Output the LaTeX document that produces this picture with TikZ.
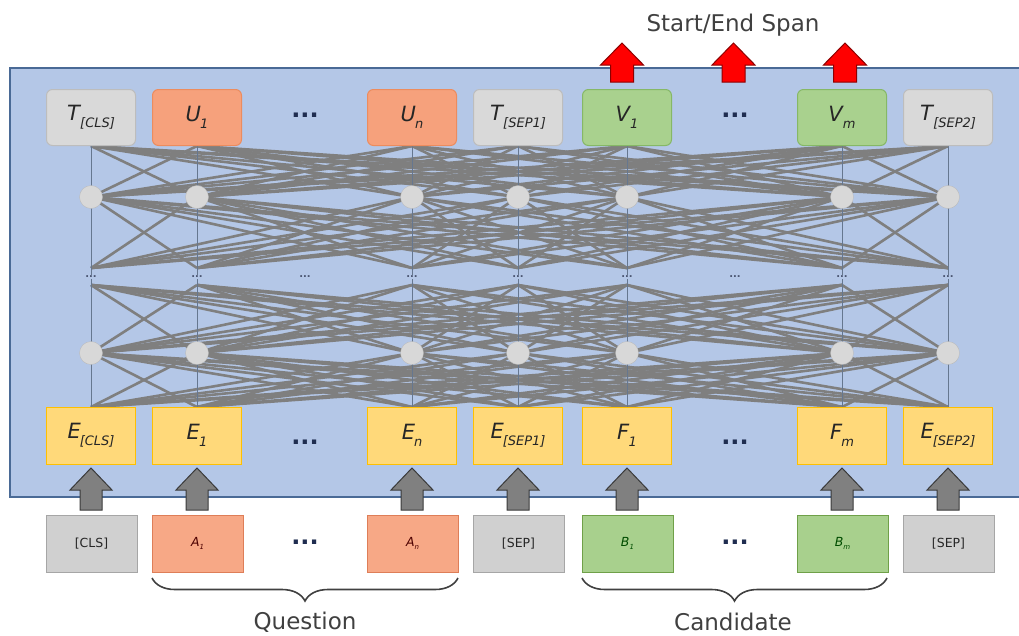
\documentclass[tikz,border=0pt]{standalone}
\usepackage{fontspec}
\setmainfont{DejaVu Sans}
\usetikzlibrary{decorations.pathreplacing}

\definecolor{panelblue}{HTML}{B4C7E7}
\definecolor{paneledge}{HTML}{4A6A96}
\definecolor{netgray}{HTML}{7F7F7F}
\definecolor{vgray}{HTML}{66778F}
\definecolor{neurongray}{HTML}{D8D8D8}
\definecolor{tgray}{HTML}{D9D9D9}
\definecolor{tgrayedge}{HTML}{BDBDBD}
\definecolor{torange}{HTML}{F6A17C}
\definecolor{torangeedge}{HTML}{EC8C5E}
\definecolor{tgreen}{HTML}{A9D18E}
\definecolor{tgreenedge}{HTML}{86B866}
\definecolor{eyellow}{HTML}{FFD97A}
\definecolor{eyellowedge}{HTML}{FFC000}
\definecolor{bgray}{HTML}{D0D0D0}
\definecolor{bgrayedge}{HTML}{A6A6A6}
\definecolor{borange}{HTML}{F7A886}
\definecolor{borangeedge}{HTML}{DE7E58}
\definecolor{bgreen}{HTML}{A8D08D}
\definecolor{bgreenedge}{HTML}{6FA048}
\definecolor{arrowgray}{HTML}{808080}
\definecolor{arrowedge}{HTML}{3A3A3A}
\definecolor{dotnavy}{HTML}{1F2D50}
\definecolor{textdark}{HTML}{262626}

% token label: main letter with a lowered, smaller tag
\newcommand\toklbl[2]{\textit{#1}\kern-1pt\raisebox{-0.34em}{\fontsize{13}{13}\selectfont\textit{#2}}}
\newcommand\smalltok[2]{\textit{#1}\raisebox{-0.2em}{\fontsize{7}{7}\selectfont\textit{#2}}}

\tikzset{
  net/.style={draw=netgray, line width=2.6pt},
  vline/.style={draw=vgray, line width=0.8pt},
  neuron/.style={circle, fill=neurongray, draw=neurongray!85!black, line width=0.3pt, minimum size=23pt, inner sep=0pt},
  netdots/.style={font=\fontsize{10}{10}\selectfont\bfseries, text=dotnavy!80, inner sep=0pt},
  topbox/.style={rounded corners=6pt, minimum width=89pt, minimum height=56pt, line width=1pt, inner sep=0pt,
                 font=\fontsize{21}{21}\selectfont, text=textdark},
  tgraybox/.style={topbox, fill=tgray, draw=tgrayedge},
  torangebox/.style={topbox, fill=torange, draw=torangeedge},
  tgreenbox/.style={topbox, fill=tgreen, draw=tgreenedge},
  embbox/.style={minimum width=89pt, minimum height=57pt, line width=1pt, inner sep=0pt,
                 fill=eyellow, draw=eyellowedge, font=\fontsize{21}{21}\selectfont, text=textdark},
  inbox/.style={minimum width=91pt, minimum height=57pt, line width=1pt, inner sep=0pt,
                font=\fontsize{12.5}{12.5}\selectfont, text=textdark},
  bgraybox/.style={inbox, fill=bgray, draw=bgrayedge},
  borangebox/.style={inbox, fill=borange, draw=borangeedge, text=black!70!red},
  bgreenbox/.style={inbox, fill=bgreen, draw=bgreenedge, text=black!70!green},
  bigdots/.style={font=\fontsize{24}{24}\selectfont\bfseries, text=dotnavy, inner sep=0pt},
  uparrow/.style={fill=arrowgray, draw=arrowedge, line width=1pt, line join=miter},
  redarrow/.style={fill=red, draw=red!55!black, line width=1pt, line join=miter},
  curly/.style={decorate, decoration={brace, amplitude=23pt}, draw=black!75, line width=1.6pt},
  caption/.style={font=\fontsize{23}{23}\selectfont, text=black!75}
}

\begin{document}
\begin{tikzpicture}[x=1pt, y=-1pt]
\useasboundingbox (0,0) rectangle (1019,635);
\fill[white] (0,0) rectangle (1019,635);

% encoder panel
\draw[fill=panelblue, draw=paneledge, line width=1.2pt] (10,68) rectangle (1030,497);

% layer attachment points of the seven token columns
\foreach \x [count=\i] in {91,197,412,518,627,842,948} {
  \coordinate (la\i) at (\x,146);
  \coordinate (lb\i) at (\x,197);
  \coordinate (lc\i) at (\x,268);
  \coordinate (ld\i) at (\x,285);
  \coordinate (le\i) at (\x,353);
  \coordinate (lf\i) at (\x,407);
}

% fully connected layers
\foreach \i in {1,...,7} {
  \foreach \j in {1,...,7} {
    \ifnum\i=\j\else
      \draw[net] (la\i) -- (lb\j);
      \draw[net] (lb\i) -- (lc\j);
      \draw[net] (ld\i) -- (le\j);
      \draw[net] (le\i) -- (lf\j);
    \fi
  }
}
\foreach \i in {1,...,7} { \draw[vline] (la\i) -- (lf\i); }

% hidden units
\foreach \x [count=\i] in {91,197,412,518,627,842,948} {
  \node[neuron] (ha\i) at (\x,197) {};
  \node[neuron] (hb\i) at (\x,353) {};
}
\foreach \x [count=\i] in {91,197,305,412,518,627,735,842,948} {
  \node[netdots, fill=panelblue, inner sep=1pt] (md\i) at (\x,277) {...};
}

% output tokens
\node[tgraybox]   (tcls)  at (91,117.5)  {\toklbl{T}{[CLS]}};
\node[torangebox] (u1)    at (197,117.5) {\toklbl{U}{1}};
\node[bigdots]    (tdq)   at (305,115)   {...};
\node[torangebox] (un)    at (412,117.5) {\toklbl{U}{n}};
\node[tgraybox]   (tsep1) at (518,117.5) {\toklbl{T}{[SEP1]}};
\node[tgreenbox]  (v1)    at (627,117.5) {\toklbl{V}{1}};
\node[bigdots]    (tdc)   at (735,115)   {...};
\node[tgreenbox]  (vm)    at (842,117.5) {\toklbl{V}{m}};
\node[tgraybox]   (tsep2) at (948,117.5) {\toklbl{T}{[SEP2]}};

% input embeddings
\node[embbox]  (ecls)  at (91,435.5)  {\toklbl{E}{[CLS]}};
\node[embbox]  (e1)    at (197,435.5) {\toklbl{E}{1}};
\node[bigdots] (edq)   at (305,442)   {...};
\node[embbox]  (en)    at (412,435.5) {\toklbl{E}{n}};
\node[embbox]  (esep1) at (518,435.5) {\toklbl{E}{[SEP1]}};
\node[embbox]  (f1)    at (627,435.5) {\toklbl{F}{1}};
\node[bigdots] (edc)   at (735,442)   {...};
\node[embbox]  (fm)    at (842,435.5) {\toklbl{F}{m}};
\node[embbox]  (esep2) at (948,435.5) {\toklbl{E}{[SEP2]}};

% input tokens
\node[bgraybox]   (icls)  at (91.5,543.5)  {[CLS]};
\node[borangebox] (ia1)   at (197.5,543.5) {\smalltok{A}{1}};
\node[bigdots]    (idq)   at (305,542)     {...};
\node[borangebox] (ian)   at (412.5,543.5) {\smalltok{A}{n}};
\node[bgraybox]   (isep1) at (518.5,543.5) {[SEP]};
\node[bgreenbox]  (ib1)   at (627.5,543.5) {\smalltok{B}{1}};
\node[bigdots]    (idc)   at (735,542)     {...};
\node[bgreenbox]  (ibm)   at (842.5,543.5) {\smalltok{B}{m}};
\node[bgraybox]   (isep2) at (948.5,543.5) {[SEP]};

% block arrows from tokens to embeddings
\foreach \x in {91,197,412,518,627,842,948} {
  \draw[uparrow] (\x-11,510) -- (\x-11,490) -- (\x-21,490) -- (\x,468)
                 -- (\x+21,490) -- (\x+11,490) -- (\x+11,510) -- cycle;
}

% span prediction arrows
\foreach \x in {622,733.5,845} {
  \draw[redarrow] (\x-11.5,82) -- (\x-11.5,65) -- (\x-21.5,65) -- (\x,43)
                  -- (\x+21.5,65) -- (\x+11.5,65) -- (\x+11.5,82) -- cycle;
}
\node[caption] (span) at (733,25) {Start/End Span};

% segment braces, drawn right to left so the tip points down
\coordinate (qa) at (152,578);
\coordinate (qb) at (458,578);
\coordinate (ca) at (582,578);
\coordinate (cb) at (887,578);
\draw[curly] (qb) -- (qa);
\draw[curly] (cb) -- (ca);
\node[caption] (question)  at (305,622) {Question};
\node[caption] (candidate) at (733,622) {Candidate};
\end{tikzpicture}
\end{document}
